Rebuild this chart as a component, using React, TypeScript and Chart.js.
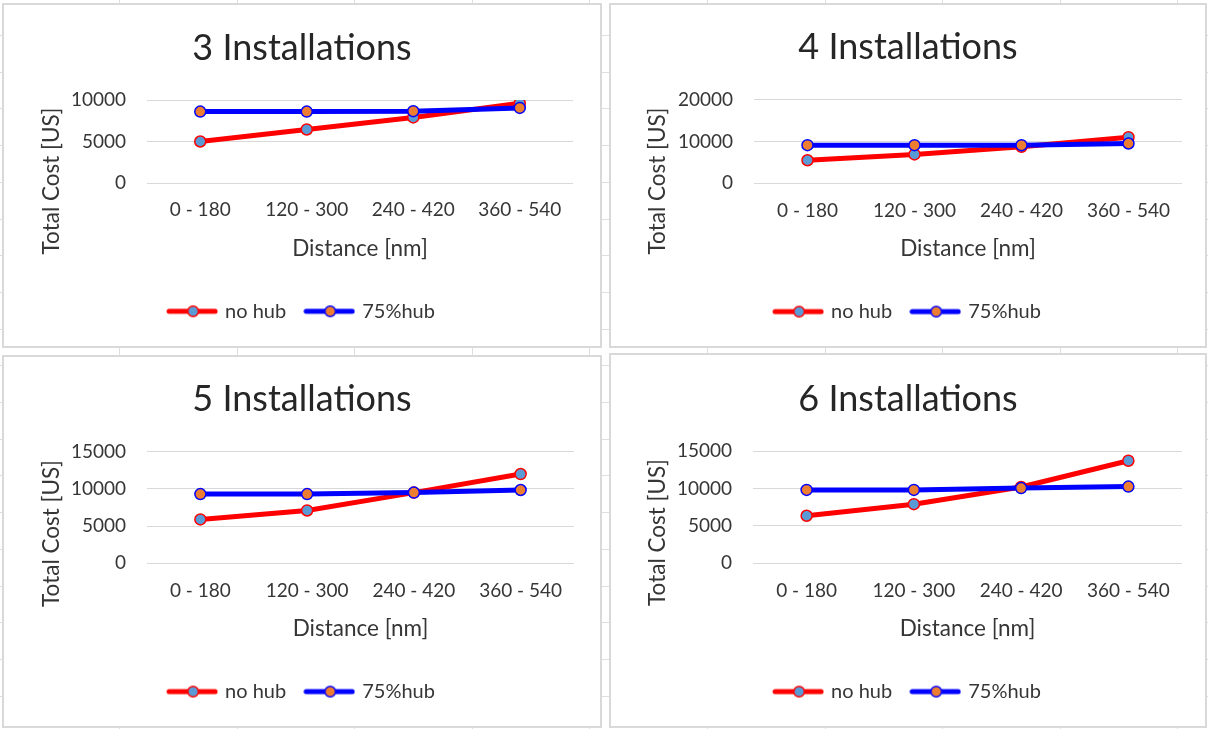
import React, { useEffect, useRef } from 'react';
import { Chart, registerables } from 'chart.js';

Chart.register(...registerables);

// ---------- data ----------
const categories = ['0 - 180', '120 - 300', '240 - 420', '360 - 540'];
const seriesNames = ['no hub', '75%hub'];
const chartTitles = ['3 Installations', '4 Installations', '5 Installations', '6 Installations'];
const noHub3 = [5000, 6450, 7900, 9600];
const hub3 = [8600, 8600, 8650, 9050];
const noHub4 = [5500, 6900, 8700, 11000];
const hub4 = [9100, 9100, 9100, 9500];
const noHub5 = [5900, 7100, 9500, 12000];
const hub5 = [9300, 9300, 9500, 9850];
const noHub6 = [6350, 7900, 10200, 13700];
const hub6 = [9800, 9800, 10050, 10250];
const yMaxes = [10000, 20000, 15000, 15000];
const ySteps = [5000, 10000, 5000, 5000];
const xAxisTitle = 'Distance [nm]';
const yAxisTitle = 'Total Cost [US]';

const seriesByChart = [
  [noHub3, hub3],
  [noHub4, hub4],
  [noHub5, hub5],
  [noHub6, hub6],
];

// ---------- layout / style ----------
const FONT = 'Lato';
const TEXT = '#363636';
const TITLE_COLOR = '#262626';
const GRID = '#d9d9d9';
const RED = '#ff0000';
const BLUE = '#0000ff';
const MARK_BLUE = '#5b9bd5';
const MARK_ORANGE = '#ed7d31';

const panels = [
  { left: 2, top: 3, width: 600, height: 345, titleY: 45, areaTop: 97, areaBottom: 180, areaLeft: 145, areaRight: 571, yTitleX: 50, yTitleY: 178 },
  { left: 609, top: 3, width: 598, height: 345, titleY: 44.5, areaTop: 96.5, areaBottom: 180.3, areaLeft: 145, areaRight: 573, yTitleX: 49, yTitleY: 178 },
  { left: 2, top: 355, width: 600, height: 373, titleY: 44, areaTop: 96.7, areaBottom: 208.3, areaLeft: 145, areaRight: 572, yTitleX: 50, yTitleY: 178.5 },
  { left: 609, top: 353, width: 598, height: 375, titleY: 46, areaTop: 98, areaBottom: 210.3, areaLeft: 144, areaRight: 573, yTitleX: 49, yTitleY: 179.5 },
];

const TITLE_SIZE = 36;
const TICK_SIZE = 19;
const AXIS_TITLE_SIZE = 22.5;
const LEGEND_SIZE = 20;
const LEGEND_PAD = 20;
const TICK_CENTER_BELOW = 27.2;
const XTITLE_CENTER_BELOW = 65.5;
const LEGEND_CENTER_BELOW = 128.3;

const sheetRows: number[] = [];
for (let y = 35; y < 729; y += 36.7) sheetRows.push(Math.round(y));
const sheetCols: number[] = [];
for (let x = 119; x < 1208; x += 117.6) sheetCols.push(Math.round(x));

function makeMarker(line: string, fill: string, border: string) {
  const c = document.createElement('canvas');
  c.width = 52;
  c.height = 14;
  const ctx = c.getContext('2d')!;
  ctx.lineCap = 'round';
  ctx.strokeStyle = line;
  ctx.lineWidth = 5;
  ctx.beginPath();
  ctx.moveTo(3, 7);
  ctx.lineTo(49, 7);
  ctx.stroke();
  ctx.beginPath();
  ctx.arc(27, 7, 5.3, 0, Math.PI * 2);
  ctx.fillStyle = fill;
  ctx.fill();
  ctx.lineWidth = 1.5;
  ctx.strokeStyle = border;
  ctx.stroke();
  return c;
}

const yTitlePlugin = {
  id: 'yTitleText',
  afterDraw(chart: any, _args: any, opts: any) {
    const ctx = chart.ctx;
    ctx.save();
    ctx.translate(opts.x, opts.y);
    ctx.rotate(-Math.PI / 2);
    ctx.font = `${opts.size}px ${FONT}`;
    ctx.fillStyle = opts.color;
    ctx.textAlign = 'center';
    ctx.textBaseline = 'middle';
    ctx.fillText(opts.text, 0, 0);
    ctx.restore();
  },
};

function ChartPanel({ idx }: { idx: number }) {
  const ref = useRef<HTMLCanvasElement | null>(null);
  const p = panels[idx];

  useEffect(() => {
    if (!ref.current) return;
    const markers = [makeMarker(RED, MARK_BLUE, RED), makeMarker(BLUE, MARK_ORANGE, BLUE)];
    const titleLH = TITLE_SIZE * 1.2;
    const titlePadTop = p.titleY - titleLH / 2;
    const titlePadBottom = p.areaTop - titlePadTop - titleLH;
    const xH = LEGEND_CENTER_BELOW - LEGEND_PAD - LEGEND_SIZE / 2;
    const xTitlePadBottom = xH - XTITLE_CENTER_BELOW - (AXIS_TITLE_SIZE * 1.2) / 2;
    const legendH = LEGEND_SIZE + LEGEND_PAD + 10;
    const padBottom = p.height - (p.areaBottom + xH + legendH);
    const rightPad = p.width - p.areaRight;
    const tickPad = TICK_CENTER_BELOW - (TICK_SIZE * 1.2) / 2;
    const [a, b] = seriesByChart[idx];

    const chart = new Chart(ref.current, {
      type: 'line',
      data: {
        labels: categories,
        datasets: [
          {
            label: seriesNames[0],
            data: a,
            borderColor: RED,
            backgroundColor: RED,
            borderWidth: 5,
            pointRadius: 5.5,
            pointHoverRadius: 5.5,
            pointBackgroundColor: MARK_BLUE,
            pointBorderColor: RED,
            pointBorderWidth: 1.5,
            tension: 0,
            order: 1,
          },
          {
            label: seriesNames[1],
            data: b,
            borderColor: BLUE,
            backgroundColor: BLUE,
            borderWidth: 5,
            pointRadius: 5.5,
            pointHoverRadius: 5.5,
            pointBackgroundColor: MARK_ORANGE,
            pointBorderColor: BLUE,
            pointBorderWidth: 1.5,
            tension: 0,
            order: 0,
          },
        ],
      },
      options: {
        animation: false,
        responsive: false,
        devicePixelRatio: 1,
        layout: { padding: { top: 0, left: 0, right: 0, bottom: padBottom } },
        plugins: {
          tooltip: { enabled: false },
          title: {
            display: true,
            text: chartTitles[idx],
            color: TITLE_COLOR,
            font: { family: FONT, size: TITLE_SIZE, weight: 'normal' },
            padding: { top: titlePadTop, bottom: titlePadBottom },
          },
          legend: {
            display: true,
            position: 'bottom',
            labels: {
              usePointStyle: true,
              pointStyleWidth: 46,
              padding: LEGEND_PAD,
              color: TEXT,
              font: { family: FONT, size: LEGEND_SIZE },
              generateLabels: (ch: any) =>
                ch.data.datasets.map((ds: any, i: number) => ({
                  text: ds.label,
                  pointStyle: markers[i],
                  fillStyle: 'transparent',
                  strokeStyle: 'transparent',
                  lineWidth: 0,
                  hidden: false,
                  datasetIndex: i,
                  fontColor: TEXT,
                })),
            },
          },
          yTitleText: { x: p.yTitleX, y: p.yTitleY, text: yAxisTitle, size: AXIS_TITLE_SIZE, color: TEXT },
        } as any,
        scales: {
          x: {
            type: 'category',
            offset: true,
            grid: { display: false, drawTicks: false },
            border: { display: false },
            ticks: {
              color: TEXT,
              font: { family: FONT, size: TICK_SIZE },
              padding: tickPad,
              maxRotation: 0,
              autoSkip: false,
            },
            title: {
              display: true,
              text: xAxisTitle,
              color: TEXT,
              font: { family: FONT, size: AXIS_TITLE_SIZE },
              padding: { top: 0, bottom: xTitlePadBottom },
            },
            afterFit: (s: any) => {
              s.height = xH;
            },
          },
          y: {
            type: 'linear',
            position: 'left',
            min: 0,
            max: yMaxes[idx],
            grid: { color: GRID, lineWidth: 1, drawTicks: false },
            border: { display: false },
            ticks: {
              stepSize: ySteps[idx],
              color: TEXT,
              font: { family: FONT, size: TICK_SIZE },
              padding: 21,
              callback: (v: any) => String(v),
            },
            afterFit: (s: any) => {
              s.width = p.areaLeft;
            },
          },
          yRight: {
            type: 'linear',
            position: 'right',
            display: true,
            grid: { display: false, drawTicks: false },
            border: { display: false },
            ticks: { display: false },
            afterFit: (s: any) => {
              s.width = rightPad;
            },
          },
        } as any,
      },
      plugins: [yTitlePlugin as any],
    });
    return () => chart.destroy();
  }, [idx]);

  return (
    <div
      style={{
        position: 'absolute',
        left: p.left,
        top: p.top,
        width: p.width,
        height: p.height,
        background: '#fff',
      }}
    >
      <canvas ref={ref} width={p.width} height={p.height} style={{ display: 'block' }} />
      <div
        style={{
          position: 'absolute',
          left: 0,
          top: 0,
          width: p.width,
          height: p.height,
          boxSizing: 'border-box',
          border: '2px solid #d9d9d9',
          pointerEvents: 'none',
        }}
      />
    </div>
  );
}

export default function App() {
  return (
    <div
      style={{
        position: 'absolute',
        left: 0,
        top: 0,
        width: 1208,
        height: 729,
        background: '#fff',
        overflow: 'hidden',
      }}
    >
      {sheetRows.map((y) => (
        <div key={'r' + y} style={{ position: 'absolute', left: 0, top: y, width: 1208, height: 1, background: '#dedede' }} />
      ))}
      {sheetCols.map((x) => (
        <div key={'c' + x} style={{ position: 'absolute', left: x, top: 0, width: 1, height: 729, background: '#dedede' }} />
      ))}
      {panels.map((_, i) => (
        <ChartPanel key={i} idx={i} />
      ))}
    </div>
  );
}
